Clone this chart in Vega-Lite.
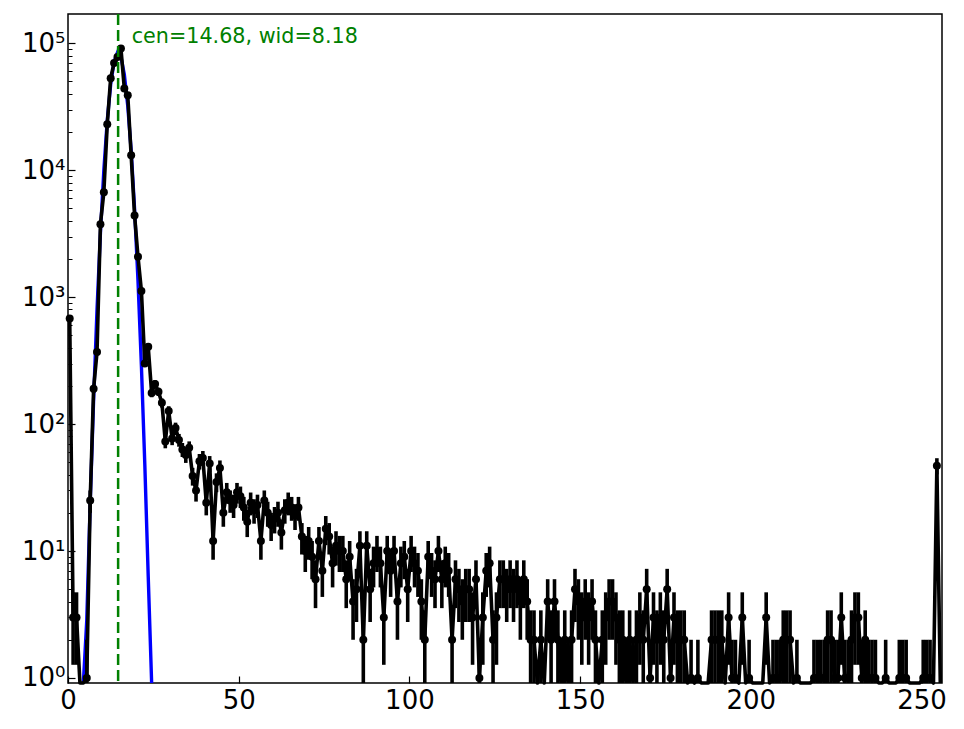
{
  "$schema": "https://vega.github.io/schema/vega-lite/v6.json",
  "width": 874,
  "height": 669,
  "autosize": {"type": "none"},
  "padding": {"left": 68, "top": 14, "right": 22, "bottom": 46},
  "background": "white",
  "config": {
    "font": "DejaVu Sans",
    "view": {"stroke": "black", "strokeWidth": 1.5},
    "axis": {"grid": false, "domain": false, "title": null, "tickColor": "black", "labelColor": "black", "labelFont": "DejaVu Sans"}
  },
  "datasets": {
    "counts": [
      {"b":0.5,"n":680,"e":26.08},{"b":1.5,"n":3,"e":1.73},{"b":2.5,"n":3,"e":1.73},{"b":3.5,"n":0,"e":0},
      {"b":4.5,"n":0,"e":0},{"b":5.5,"n":1,"e":1},{"b":6.5,"n":25,"e":5},{"b":7.5,"n":190,"e":13.78},
      {"b":8.5,"n":370,"e":19.24},{"b":9.5,"n":3760,"e":61.32},{"b":10.5,"n":6700,"e":81.85},{"b":11.5,"n":23000,"e":151.66},
      {"b":12.5,"n":53000,"e":230.22},{"b":13.5,"n":70000,"e":264.58},{"b":14.5,"n":78000,"e":279.28},{"b":15.5,"n":91000,"e":301.66},
      {"b":16.5,"n":44000,"e":209.76},{"b":17.5,"n":39000,"e":197.48},{"b":18.5,"n":13100,"e":114.46},{"b":19.5,"n":4400,"e":66.33},
      {"b":20.5,"n":2080,"e":45.61},{"b":21.5,"n":1120,"e":33.47},{"b":22.5,"n":300,"e":17.32},{"b":23.5,"n":406,"e":20.15},
      {"b":24.5,"n":176,"e":13.27},{"b":25.5,"n":207,"e":14.39},{"b":26.5,"n":180,"e":13.42},{"b":27.5,"n":147,"e":12.12},
      {"b":28.5,"n":73,"e":8.54},{"b":29.5,"n":127,"e":11.27},{"b":30.5,"n":77,"e":8.77},{"b":31.5,"n":93,"e":9.64},
      {"b":32.5,"n":75,"e":8.66},{"b":33.5,"n":63,"e":7.94},{"b":34.5,"n":57,"e":7.55},{"b":35.5,"n":65,"e":8.06},
      {"b":36.5,"n":39,"e":6.24},{"b":37.5,"n":30,"e":5.48},{"b":38.5,"n":51,"e":7.14},{"b":39.5,"n":54,"e":7.35},
      {"b":40.5,"n":24,"e":4.9},{"b":41.5,"n":49,"e":7},{"b":42.5,"n":12,"e":3.46},{"b":43.5,"n":35,"e":5.92},
      {"b":44.5,"n":45,"e":6.71},{"b":45.5,"n":20,"e":4.47},{"b":46.5,"n":29,"e":5.39},{"b":47.5,"n":25,"e":5},
      {"b":48.5,"n":23,"e":4.8},{"b":49.5,"n":29,"e":5.39},{"b":50.5,"n":27,"e":5.2},{"b":51.5,"n":22,"e":4.69},
      {"b":52.5,"n":17,"e":4.12},{"b":53.5,"n":24,"e":4.9},{"b":54.5,"n":21,"e":4.58},{"b":55.5,"n":23,"e":4.8},
      {"b":56.5,"n":12,"e":3.46},{"b":57.5,"n":25,"e":5},{"b":58.5,"n":20,"e":4.47},{"b":59.5,"n":16,"e":4},
      {"b":60.5,"n":18,"e":4.24},{"b":61.5,"n":20,"e":4.47},{"b":62.5,"n":14,"e":3.74},{"b":63.5,"n":21,"e":4.58},
      {"b":64.5,"n":24,"e":4.9},{"b":65.5,"n":22,"e":4.69},{"b":66.5,"n":19,"e":4.36},{"b":67.5,"n":22,"e":4.69},
      {"b":68.5,"n":13,"e":3.61},{"b":69.5,"n":10,"e":3.16},{"b":70.5,"n":12,"e":3.46},{"b":71.5,"n":9,"e":3},
      {"b":72.5,"n":6,"e":2.45},{"b":73.5,"n":12,"e":3.46},{"b":74.5,"n":7,"e":2.65},{"b":75.5,"n":15,"e":3.87},
      {"b":76.5,"n":13,"e":3.61},{"b":77.5,"n":8,"e":2.83},{"b":78.5,"n":11,"e":3.32},{"b":79.5,"n":10,"e":3.16},
      {"b":80.5,"n":10,"e":3.16},{"b":81.5,"n":6,"e":2.45},{"b":82.5,"n":9,"e":3},{"b":83.5,"n":4,"e":2},
      {"b":84.5,"n":5,"e":2.24},{"b":85.5,"n":11,"e":3.32},{"b":86.5,"n":2,"e":1.41},{"b":87.5,"n":11,"e":3.32},
      {"b":88.5,"n":5,"e":2.24},{"b":89.5,"n":8,"e":2.83},{"b":90.5,"n":10,"e":3.16},{"b":91.5,"n":8,"e":2.83},
      {"b":92.5,"n":3,"e":1.73},{"b":93.5,"n":10,"e":3.16},{"b":94.5,"n":7,"e":2.65},{"b":95.5,"n":10,"e":3.16},
      {"b":96.5,"n":4,"e":2},{"b":97.5,"n":8,"e":2.83},{"b":98.5,"n":9,"e":3},{"b":99.5,"n":5,"e":2.24},
      {"b":100.5,"n":10,"e":3.16},{"b":101.5,"n":8,"e":2.83},{"b":102.5,"n":7,"e":2.65},{"b":103.5,"n":4,"e":2},
      {"b":104.5,"n":2,"e":1.41},{"b":105.5,"n":9,"e":3},{"b":106.5,"n":7,"e":2.65},{"b":107.5,"n":6,"e":2.45},
      {"b":108.5,"n":10,"e":3.16},{"b":109.5,"n":6,"e":2.45},{"b":110.5,"n":8,"e":2.83},{"b":111.5,"n":7,"e":2.65},
      {"b":112.5,"n":2,"e":1.41},{"b":113.5,"n":6,"e":2.45},{"b":114.5,"n":5,"e":2.24},{"b":115.5,"n":4,"e":2},
      {"b":116.5,"n":5,"e":2.24},{"b":117.5,"n":5,"e":2.24},{"b":118.5,"n":3,"e":1.73},{"b":119.5,"n":6,"e":2.45},
      {"b":120.5,"n":1,"e":1},{"b":121.5,"n":3,"e":1.73},{"b":122.5,"n":7,"e":2.65},{"b":123.5,"n":8,"e":2.83},
      {"b":124.5,"n":2,"e":1.41},{"b":125.5,"n":3,"e":1.73},{"b":126.5,"n":6,"e":2.45},{"b":127.5,"n":6,"e":2.45},
      {"b":128.5,"n":5,"e":2.24},{"b":129.5,"n":6,"e":2.45},{"b":130.5,"n":5,"e":2.24},{"b":131.5,"n":6,"e":2.45},
      {"b":132.5,"n":4,"e":2},{"b":133.5,"n":6,"e":2.45},{"b":134.5,"n":4,"e":2},{"b":135.5,"n":2,"e":1.41},
      {"b":136.5,"n":2,"e":1.41},{"b":137.5,"n":0,"e":0},{"b":138.5,"n":2,"e":1.41},{"b":139.5,"n":0,"e":0},
      {"b":140.5,"n":4,"e":2},{"b":141.5,"n":2,"e":1.41},{"b":142.5,"n":4,"e":2},{"b":143.5,"n":2,"e":1.41},
      {"b":144.5,"n":1,"e":1},{"b":145.5,"n":2,"e":1.41},{"b":146.5,"n":1,"e":1},{"b":147.5,"n":2,"e":1.41},
      {"b":148.5,"n":5,"e":2.24},{"b":149.5,"n":4,"e":2},{"b":150.5,"n":3,"e":1.73},{"b":151.5,"n":4,"e":2},
      {"b":152.5,"n":3,"e":1.73},{"b":153.5,"n":4,"e":2},{"b":154.5,"n":2,"e":1.41},{"b":155.5,"n":0,"e":0},
      {"b":156.5,"n":2,"e":1.41},{"b":157.5,"n":3,"e":1.73},{"b":158.5,"n":4,"e":2},{"b":159.5,"n":4,"e":2},
      {"b":160.5,"n":3,"e":1.73},{"b":161.5,"n":2,"e":1.41},{"b":162.5,"n":2,"e":1.41},{"b":163.5,"n":1,"e":1},
      {"b":164.5,"n":2,"e":1.41},{"b":165.5,"n":1,"e":1},{"b":166.5,"n":2,"e":1.41},{"b":167.5,"n":3,"e":1.73},
      {"b":168.5,"n":2,"e":1.41},{"b":169.5,"n":5,"e":2.24},{"b":170.5,"n":1,"e":1},{"b":171.5,"n":3,"e":1.73},
      {"b":172.5,"n":2,"e":1.41},{"b":173.5,"n":3,"e":1.73},{"b":174.5,"n":2,"e":1.41},{"b":175.5,"n":5,"e":2.24},
      {"b":176.5,"n":1,"e":1},{"b":177.5,"n":3,"e":1.73},{"b":178.5,"n":2,"e":1.41},{"b":179.5,"n":2,"e":1.41},
      {"b":180.5,"n":2,"e":1.41},{"b":181.5,"n":0,"e":0},{"b":182.5,"n":1,"e":1},{"b":183.5,"n":0,"e":0},
      {"b":184.5,"n":1,"e":1},{"b":185.5,"n":0,"e":0},{"b":186.5,"n":0,"e":0},{"b":187.5,"n":0,"e":0},
      {"b":188.5,"n":2,"e":1.41},{"b":189.5,"n":2,"e":1.41},{"b":190.5,"n":2,"e":1.41},{"b":191.5,"n":2,"e":1.41},
      {"b":192.5,"n":0,"e":0},{"b":193.5,"n":3,"e":1.73},{"b":194.5,"n":1,"e":1},{"b":195.5,"n":1,"e":1},
      {"b":196.5,"n":0,"e":0},{"b":197.5,"n":3,"e":1.73},{"b":198.5,"n":0,"e":0},{"b":199.5,"n":1,"e":1},
      {"b":200.5,"n":0,"e":0},{"b":201.5,"n":0,"e":0},{"b":202.5,"n":0,"e":0},{"b":203.5,"n":0,"e":0},
      {"b":204.5,"n":3,"e":1.73},{"b":205.5,"n":0,"e":0},{"b":206.5,"n":1,"e":1},{"b":207.5,"n":1,"e":1},
      {"b":208.5,"n":1,"e":1},{"b":209.5,"n":2,"e":1.41},{"b":210.5,"n":2,"e":1.41},{"b":211.5,"n":2,"e":1.41},
      {"b":212.5,"n":0,"e":0},{"b":213.5,"n":1,"e":1},{"b":214.5,"n":0,"e":0},{"b":215.5,"n":0,"e":0},
      {"b":216.5,"n":0,"e":0},{"b":217.5,"n":0,"e":0},{"b":218.5,"n":1,"e":1},{"b":219.5,"n":1,"e":1},
      {"b":220.5,"n":1,"e":1},{"b":221.5,"n":1,"e":1},{"b":222.5,"n":2,"e":1.41},{"b":223.5,"n":2,"e":1.41},
      {"b":224.5,"n":1,"e":1},{"b":225.5,"n":1,"e":1},{"b":226.5,"n":3,"e":1.73},{"b":227.5,"n":1,"e":1},
      {"b":228.5,"n":1,"e":1},{"b":229.5,"n":2,"e":1.41},{"b":230.5,"n":3,"e":1.73},{"b":231.5,"n":3,"e":1.73},
      {"b":232.5,"n":1,"e":1},{"b":233.5,"n":2,"e":1.41},{"b":234.5,"n":1,"e":1},{"b":235.5,"n":1,"e":1},
      {"b":236.5,"n":1,"e":1},{"b":237.5,"n":0,"e":0},{"b":238.5,"n":0,"e":0},{"b":239.5,"n":1,"e":1},
      {"b":240.5,"n":0,"e":0},{"b":241.5,"n":0,"e":0},{"b":242.5,"n":0,"e":0},{"b":243.5,"n":1,"e":1},
      {"b":244.5,"n":1,"e":1},{"b":245.5,"n":1,"e":1},{"b":246.5,"n":0,"e":0},{"b":247.5,"n":0,"e":0},
      {"b":248.5,"n":0,"e":0},{"b":249.5,"n":0,"e":0},{"b":250.5,"n":1,"e":1},{"b":251.5,"n":1,"e":1},
      {"b":252.5,"n":1,"e":1},{"b":253.5,"n":0,"e":0},{"b":254.5,"n":47,"e":6.86},{"b":255.5,"n":0,"e":0}
    ],
    "fit": [
      {"b":4.5,"f":0.27},{"b":5.5,"f":2.86},{"b":6.5,"f":23.8},{"b":7.5,"f":155},{"b":8.5,"f":797},
      {"b":9.5,"f":3200},{"b":10.5,"f":10040},{"b":11.5,"f":24700},{"b":12.5,"f":47500},{"b":13.5,"f":71700},
      {"b":14.5,"f":84700},{"b":15.5,"f":78300},{"b":16.5,"f":56700},{"b":17.5,"f":32200},{"b":18.5,"f":14300},
      {"b":19.5,"f":4970},{"b":20.5,"f":1350},{"b":21.5,"f":288},{"b":22.5,"f":48},{"b":23.5,"f":6.3},{"b":24.5,"f":0.65}
    ],
    "marker": [{"cen": 14.68, "ty": 100000, "label": "cen=14.68, wid=8.18"}]
  },
  "resolve": {"axis": {"x": "independent", "y": "independent"}},
  "layer": [
    {
      "data": {"name": "fit"},
      "mark": {"type": "line", "color": "#0000ff", "strokeWidth": 3.4},
      "encoding": {
        "x": {"field": "b", "type": "quantitative", "axis": null},
        "y": {"field": "f", "type": "quantitative", "axis": null}
      }
    },
    {
      "data": {"name": "counts"},
      "mark": {"type": "line", "color": "black", "strokeWidth": 3.6, "strokeJoin": "round"},
      "encoding": {
        "x": {
          "field": "b", "type": "quantitative",
          "scale": {"domain": [0, 256], "nice": false, "zero": false},
          "axis": {"orient": "bottom", "values": [0, 50, 100, 150, 200, 250], "tickSize": -7, "tickWidth": 1.2, "labelFontSize": 26, "labelPadding": 11, "labelFlush": false, "labelOverlap": false, "labelBound": false}
        },
        "y": {
          "field": "n", "type": "quantitative",
          "scale": {"type": "log", "domain": [0.913, 170000], "nice": false, "clamp": true},
          "axis": {
            "orient": "left",
            "values": [1, 10, 100, 1000, 10000, 100000],
            "labelExpr": "'10' + ['⁰','¹','²','³','⁴','⁵'][round(log(datum.value) / LN10)]",
            "tickSize": -7, "tickWidth": 1.2, "labelFontSize": 26, "labelPadding": 10
          }
        }
      }
    },
    {
      "data": {"name": "counts"},
      "transform": [
        {"filter": "datum.n > 0"},
        {"calculate": "datum.n - datum.e", "as": "lo"},
        {"calculate": "datum.n + datum.e", "as": "hi"}
      ],
      "mark": {"type": "rule", "color": "black", "strokeWidth": 3.6},
      "encoding": {
        "x": {"field": "b", "type": "quantitative", "axis": null},
        "y": {"field": "lo", "type": "quantitative", "axis": null},
        "y2": {"field": "hi"}
      }
    },
    {
      "data": {"name": "counts"},
      "transform": [{"filter": "datum.n > 0"}],
      "mark": {"type": "point", "shape": "circle", "filled": true, "color": "black", "opacity": 1, "size": 64},
      "encoding": {
        "x": {"field": "b", "type": "quantitative", "axis": null},
        "y": {
          "field": "n", "type": "quantitative",
          "axis": {
            "orient": "left", "labels": false, "tickSize": -4, "tickWidth": 1,
            "values": [2,3,4,5,6,7,8,9,20,30,40,50,60,70,80,90,200,300,400,500,600,700,800,900,2000,3000,4000,5000,6000,7000,8000,9000,20000,30000,40000,50000,60000,70000,80000,90000]
          }
        }
      }
    },
    {
      "data": {"name": "marker"},
      "mark": {"type": "rule", "color": "#008000", "strokeWidth": 2.5, "strokeDash": [11, 5]},
      "encoding": {
        "x": {"field": "cen", "type": "quantitative", "axis": null}
      }
    },
    {
      "data": {"name": "marker"},
      "mark": {"type": "text", "color": "#008000", "fontSize": 20.7, "align": "left", "baseline": "alphabetic", "dx": 13.6},
      "encoding": {
        "x": {"field": "cen", "type": "quantitative", "axis": null},
        "y": {"field": "ty", "type": "quantitative", "axis": null},
        "text": {"field": "label"}
      }
    }
  ]
}
